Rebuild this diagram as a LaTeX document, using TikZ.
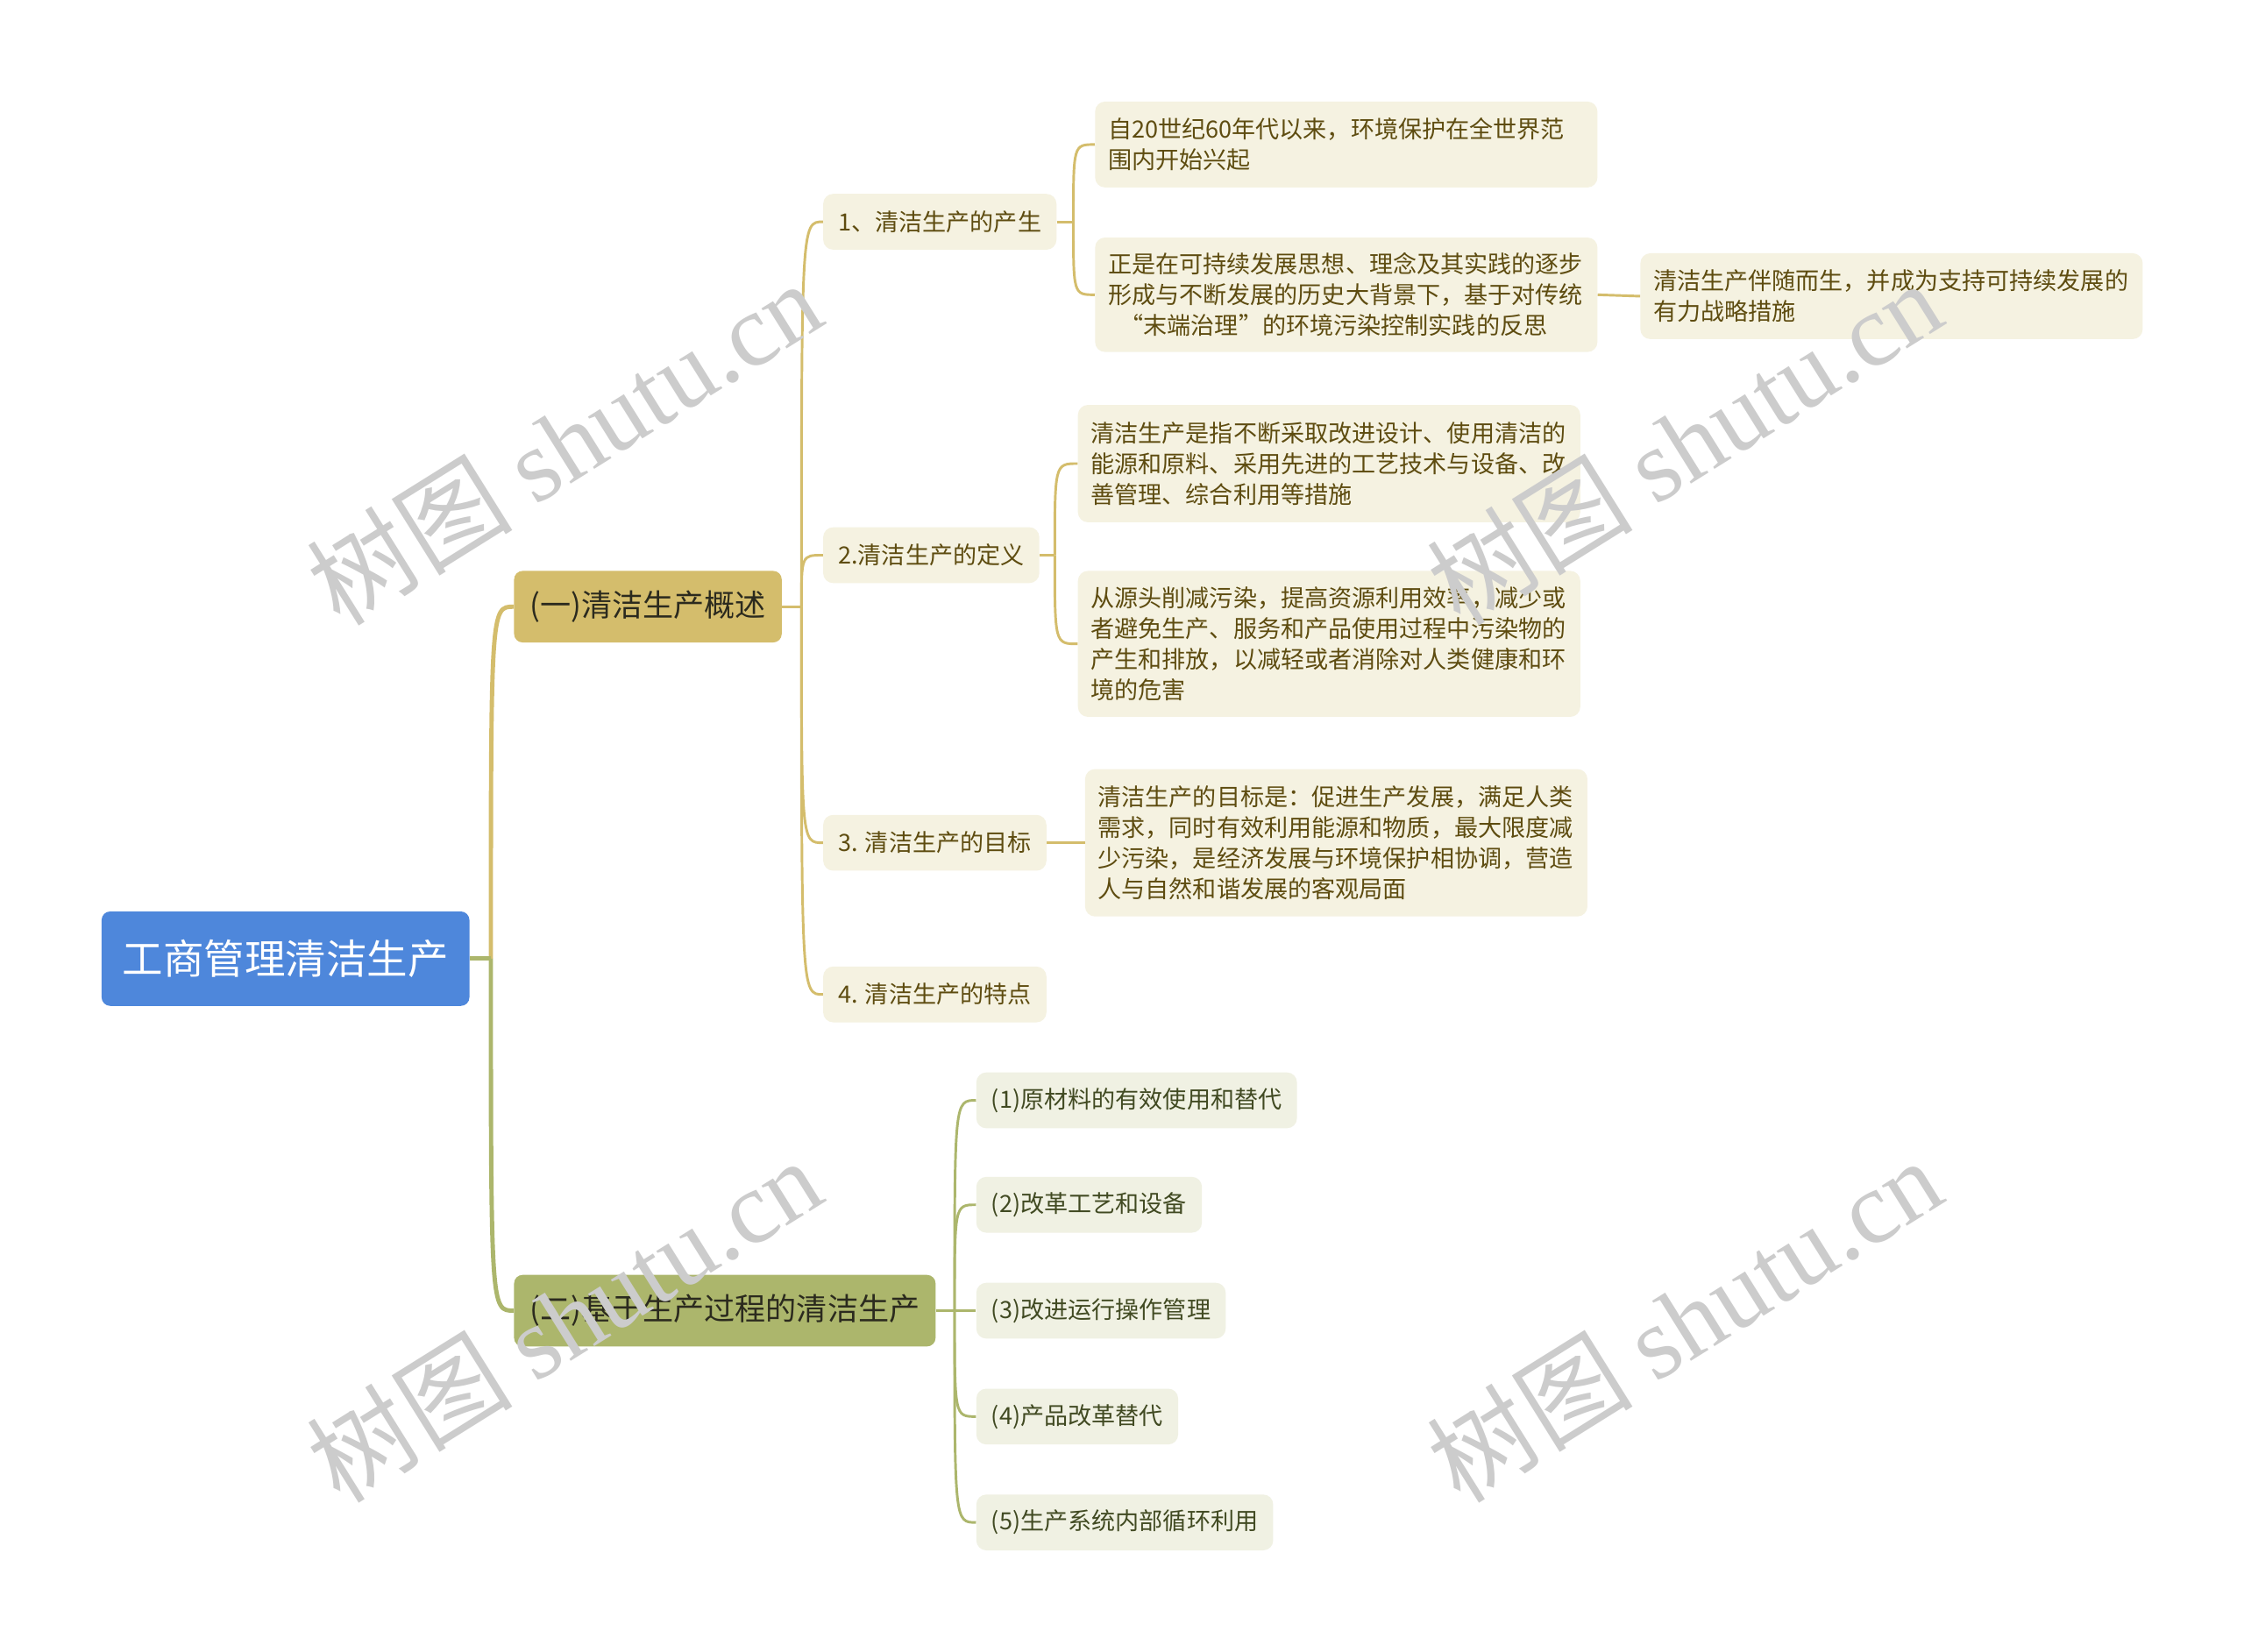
\documentclass[tikz,border=0pt]{standalone}
\usepackage{fontspec}
\setmainfont{Noto Sans CJK SC}
\newfontfamily\wmlatin{Liberation Serif}
\definecolor{rootblue}{HTML}{4E87DB}
\definecolor{gold}{HTML}{D4BD6C}
\definecolor{olive}{HTML}{ACB66C}
\definecolor{creamA}{HTML}{F5F2E1}
\definecolor{creamB}{HTML}{F0F1E3}
\definecolor{textA}{HTML}{5E4C10}
\definecolor{textB}{HTML}{414A22}
\definecolor{btext}{HTML}{2B2A1E}
\newcommand\mmlink[3]{\draw[#1] (#2) .. controls (#2 |- #3.west) and (#2 |- #3.west) .. (#3.west);}
\begin{document}
\begin{tikzpicture}[x=1pt,y=-1pt,
  rootbox/.style={fill=rootblue, rounded corners=6pt, text=white,
    font=\fontsize{28.5}{32}\selectfont, minimum width=257pt, minimum height=66pt, inner sep=0pt},
  brbox/.style={fill=#1, rounded corners=6pt, text=btext,
    font=\fontsize{21.5}{25}\selectfont, minimum height=50pt, inner xsep=11pt, anchor=west},
  lvA/.style={fill=creamA, text=textA, rounded corners=7pt,
    font=\fontsize{16.6}{21.5}\selectfont, minimum height=39pt, inner xsep=10.5pt, anchor=west},
  lvB/.style={fill=creamB, text=textB, rounded corners=7pt,
    font=\fontsize{16.6}{21.5}\selectfont, minimum height=39pt, inner xsep=10.5pt, anchor=west},
  lvT/.style={lvA, text width=333pt, align=left, inner xsep=9pt},
  goldmain/.style={draw=gold, line width=3pt},
  olivemain/.style={draw=olive, line width=3pt},
  goldsub/.style={draw=gold, line width=1.8pt},
  olivesub/.style={draw=olive, line width=1.8pt},
  wm/.style={text=black!20, font=\fontsize{72}{74}\selectfont, rotate=32, inner sep=0pt}
]
\useasboundingbox (0,0) rectangle (1568,1154);
\fill[white] (0,0) rectangle (1568,1154);

% nodes
\node[rootbox] (root) at (199.5,670) {工商管理清洁生产};
\node[brbox=gold] (br1) at (359,424) {(一)清洁生产概述};
\node[brbox=olive] (br2) at (359,916) {(二)基于生产过程的清洁生产};

\node[lvA] (a1) at (575,155) {1、清洁生产的产生};
\node[lvA] (a2) at (575,388) {2.清洁生产的定义};
\node[lvA] (a3) at (575,589) {3. 清洁生产的目标};
\node[lvA] (a4) at (575,695) {4. 清洁生产的特点};

\node[lvT, minimum height=60pt] (c11) at (765,101) {自20世纪60年代以来，环境保护在全世界范\\围内开始兴起};
\node[lvT, minimum height=80pt] (c12) at (765,206) {正是在可持续发展思想、理念及其实践的逐步\\形成与不断发展的历史大背景下，基于对传统\\\hspace*{0.5em}“末端治理”的环境污染控制实践的反思};
\node[lvT, minimum height=60pt] (c121) at (1146,207) {清洁生产伴随而生，并成为支持可持续发展的\\有力战略措施};
\node[lvT, minimum height=82pt] (c21) at (753,324) {清洁生产是指不断采取改进设计、使用清洁的\\能源和原料、采用先进的工艺技术与设备、改\\善管理、综合利用等措施};
\node[lvT, minimum height=102pt] (c22) at (753,450) {从源头削减污染，提高资源利用效率，减少或\\者避免生产、服务和产品使用过程中污染物的\\产生和排放，以减轻或者消除对人类健康和环\\境的危害};
\node[lvT, minimum height=103pt] (c31) at (758,589) {清洁生产的目标是：促进生产发展，满足人类\\需求，同时有效利用能源和物质，最大限度减\\少污染，是经济发展与环境保护相协调，营造\\人与自然和谐发展的客观局面};

\node[lvB] (b1) at (682,769) {(1)原材料的有效使用和替代};
\node[lvB] (b2) at (682,842) {(2)改革工艺和设备};
\node[lvB] (b3) at (682,916) {(3)改进运行操作管理};
\node[lvB] (b4) at (682,990) {(4)产品改革替代};
\node[lvB] (b5) at (682,1064) {(5)生产系统内部循环利用};

% junctions
\coordinate (j0) at (343,670);
\coordinate (j1) at (560,424);
\coordinate (j2) at (667,916);
\coordinate (j11) at (750,155);
\coordinate (j12) at (737,388);

% root connectors
\mmlink{goldmain}{j0}{br1}
\draw[olivemain] (root.east) -- (j0);
\mmlink{olivemain}{j0}{br2}

% branch 1
\draw[goldsub] (br1.east) -- (j1);
\mmlink{goldsub}{j1}{a1}
\mmlink{goldsub}{j1}{a2}
\mmlink{goldsub}{j1}{a3}
\mmlink{goldsub}{j1}{a4}
\draw[goldsub] (a1.east) -- (j11);
\mmlink{goldsub}{j11}{c11}
\mmlink{goldsub}{j11}{c12}
\draw[goldsub] (c12.east) -- (c121.west);
\draw[goldsub] (a2.east) -- (j12);
\mmlink{goldsub}{j12}{c21}
\mmlink{goldsub}{j12}{c22}
\draw[goldsub] (a3.east) -- (c31.west);

% branch 2
\draw[olivesub] (br2.east) -- (j2);
\mmlink{olivesub}{j2}{b1}
\mmlink{olivesub}{j2}{b2}
\mmlink{olivesub}{j2}{b3}
\mmlink{olivesub}{j2}{b4}
\mmlink{olivesub}{j2}{b5}

% watermarks
\node[wm] (w1) at (394,309) {树图 {\wmlatin shutu.cn}};
\node[wm] (w2) at (1177,309) {树图 {\wmlatin shutu.cn}};
\node[wm] (w3) at (394,922) {树图 {\wmlatin shutu.cn}};
\node[wm] (w4) at (1177,922) {树图 {\wmlatin shutu.cn}};
\end{tikzpicture}
\end{document}
